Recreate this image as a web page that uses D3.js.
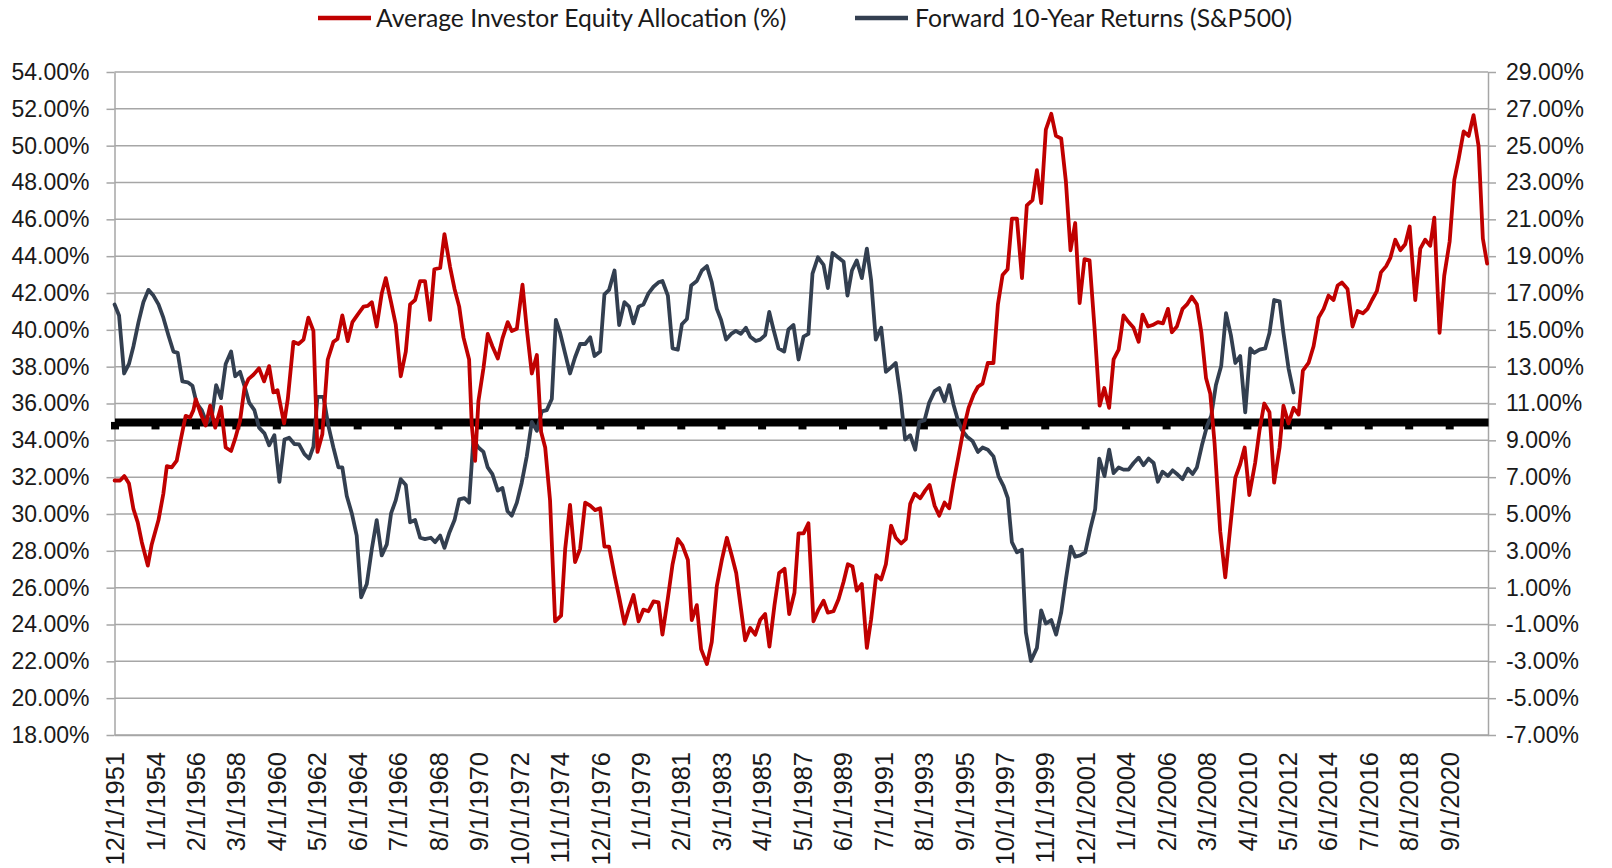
<!DOCTYPE html>
<html>
<head>
<meta charset="utf-8">
<script src="https://cdn.jsdelivr.net/npm/d3@7"></script>
<style>
  html, body { margin: 0; padding: 0; background: #fff; }
  svg { display: block; font-family: Lato, "Open Sans", sans-serif; }
  .axis text { font-size: 23px; fill: #1a1a1a; }
  .axis.bottom text { font-size: 25.5px; }
  .grid line { stroke: #a6a6a6; stroke-width: 1.5; }
  .legend text { font-size: 24.7px; fill: #1a1a1a; }
</style>
</head>
<body>
<div id="chart"></div>
<script>
(function () {'use strict';

// Average investor equity allocation (%), left axis. [decimal year, value]
var allocYears = [
    1951.92, 1952.20, 1952.42, 1952.66, 1952.89, 1953.11, 1953.32, 1953.63, 1953.83, 1954.18,
    1954.43, 1954.61, 1954.86, 1955.12, 1955.34, 1955.58, 1955.81, 1955.98, 1956.10, 1956.37,
    1956.61, 1956.84, 1957.10, 1957.40, 1957.64, 1957.92, 1958.13, 1958.38, 1958.61, 1958.81,
    1959.07, 1959.36, 1959.62, 1959.88, 1960.10, 1960.31, 1960.65, 1960.84, 1961.13, 1961.39,
    1961.65, 1961.90, 1962.16, 1962.37, 1962.62, 1962.90, 1963.19, 1963.40, 1963.65, 1963.93,
    1964.17, 1964.44, 1964.74, 1964.96, 1965.17, 1965.42, 1965.68, 1965.89, 1966.16, 1966.40,
    1966.66, 1966.92, 1967.14, 1967.40, 1967.66, 1967.91, 1968.17, 1968.39, 1968.69, 1968.91,
    1969.20, 1969.43, 1969.67, 1969.89, 1970.18, 1970.32, 1970.49, 1970.66, 1970.92, 1971.14,
    1971.38, 1971.66, 1971.90, 1972.17, 1972.38, 1972.64, 1972.93, 1973.15, 1973.41, 1973.67,
    1973.89, 1974.10, 1974.35, 1974.61, 1974.92, 1975.13, 1975.38, 1975.64, 1975.90, 1976.16,
    1976.42, 1976.67, 1976.93, 1977.15, 1977.39, 1977.67, 1977.91, 1978.18, 1978.42, 1978.65,
    1978.91, 1979.16, 1979.42, 1979.68, 1979.94, 1980.14, 1980.42, 1980.66, 1980.93, 1981.17,
    1981.45, 1981.65, 1981.91, 1982.13, 1982.43, 1982.68, 1982.94, 1983.20, 1983.46, 1983.71,
    1983.94, 1984.18, 1984.40, 1984.66, 1984.92, 1985.17, 1985.43, 1985.65, 1985.91, 1986.15,
    1986.43, 1986.67, 1986.94, 1987.15, 1987.41, 1987.66, 1987.92, 1988.18, 1988.44, 1988.66,
    1988.95, 1989.21, 1989.47, 1989.69, 1989.93, 1990.15, 1990.41, 1990.67, 1990.89, 1991.15,
    1991.41, 1991.65, 1991.92, 1992.16, 1992.44, 1992.68, 1992.90, 1993.13, 1993.42, 1993.67,
    1993.90, 1994.16, 1994.40, 1994.67, 1994.91, 1995.13, 1995.39, 1995.65, 1995.91, 1996.17,
    1996.39, 1996.63, 1996.90, 1997.19, 1997.42, 1997.66, 1997.92, 1998.14, 1998.40, 1998.66,
    1998.91, 1999.20, 1999.43, 1999.65, 1999.89, 2000.17, 2000.41, 2000.68, 2000.92, 2001.16,
    2001.40, 2001.63, 2001.88, 2002.14, 2002.40, 2002.66, 2002.90, 2003.15, 2003.38, 2003.64,
    2003.89, 2004.15, 2004.41, 2004.67, 2004.87, 2005.15, 2005.39, 2005.66, 2005.92, 2006.18,
    2006.38, 2006.64, 2006.93, 2007.16, 2007.41, 2007.67, 2007.90, 2008.14, 2008.36, 2008.58,
    2008.87, 2009.13, 2009.39, 2009.65, 2009.90, 2010.13, 2010.37, 2010.67, 2010.90, 2011.14,
    2011.41, 2011.65, 2011.93, 2012.13, 2012.39, 2012.65, 2012.91, 2013.13, 2013.42, 2013.68,
    2013.94, 2014.20, 2014.45, 2014.71, 2014.92, 2015.14, 2015.43, 2015.69, 2015.95, 2016.22,
    2016.46, 2016.69, 2016.94, 2017.15, 2017.42, 2017.63, 2017.89, 2018.15, 2018.40, 2018.63,
    2018.92, 2019.18, 2019.43, 2019.69, 2019.90, 2020.17, 2020.41, 2020.69, 2020.93, 2021.15,
    2021.41, 2021.67, 2021.92, 2022.18, 2022.40, 2022.62
];
var allocValues = [
    31.82, 31.82, 32.06, 31.65, 30.26, 29.55, 28.47, 27.20, 28.35, 29.67,
    31.10, 32.60, 32.53, 32.90, 34.10, 35.33, 35.24, 35.64, 36.24, 35.40,
    34.80, 35.88, 34.69, 35.81, 33.61, 33.42, 34.09, 35.05, 36.84, 37.32,
    37.56, 37.91, 37.20, 38.03, 36.60, 36.72, 34.92, 36.24, 39.35, 39.23,
    39.47, 40.66, 39.94, 33.37, 34.33, 38.39, 39.35, 39.50, 40.78, 39.39,
    40.42, 40.83, 41.26, 41.30, 41.50, 40.18, 41.98, 42.81, 41.50, 40.30,
    37.48, 38.82, 41.38, 41.62, 42.65, 42.65, 40.54, 43.29, 43.36, 45.20,
    43.41, 42.22, 41.26, 39.59, 38.39, 34.80, 32.89, 36.12, 37.91, 39.78,
    39.11, 38.44, 39.54, 40.42, 39.94, 40.06, 42.45, 40.06, 37.63, 38.63,
    34.45, 33.61, 30.74, 24.17, 24.48, 28.10, 30.50, 27.39, 28.11, 30.62,
    30.45, 30.21, 30.31, 28.23, 28.23, 26.68, 25.48, 24.05, 24.89, 25.60,
    24.17, 24.81, 24.72, 25.25, 25.20, 23.45, 25.44, 27.27, 28.64, 28.30,
    27.51, 24.24, 25.05, 22.66, 21.85, 23.05, 26.08, 27.51, 28.71, 27.75,
    26.80, 24.89, 23.14, 23.81, 23.45, 24.24, 24.57, 22.80, 25.05, 26.80,
    27.03, 24.57, 25.72, 28.95, 28.95, 29.50, 24.17, 24.81, 25.29, 24.65,
    24.72, 25.37, 26.32, 27.27, 27.15, 25.84, 26.20, 22.73, 24.29, 26.68,
    26.44, 27.27, 29.36, 28.71, 28.40, 28.64, 30.55, 31.10, 30.86, 31.27,
    31.58, 30.45, 29.91, 30.62, 30.31, 31.70, 33.13, 34.61, 35.76, 36.48,
    36.91, 37.08, 38.20, 38.20, 41.38, 42.98, 43.29, 46.04, 46.04, 42.81,
    46.76, 47.04, 48.67, 46.88, 50.87, 51.73, 50.53, 50.39, 48.07, 44.32,
    45.80, 41.45, 43.84, 43.77, 40.06, 35.88, 36.84, 35.76, 38.39, 38.92,
    40.78, 40.42, 40.11, 39.35, 40.83, 40.18, 40.26, 40.42, 40.35, 41.14,
    39.87, 40.18, 41.14, 41.38, 41.79, 41.38, 39.87, 37.39, 36.53, 33.85,
    29.07, 26.56, 29.31, 31.98, 32.70, 33.61, 31.03, 32.77, 34.57, 36.00,
    35.52, 31.70, 33.61, 35.88, 34.92, 35.76, 35.40, 37.79, 38.20, 39.11,
    40.66, 41.14, 41.86, 41.62, 42.41, 42.57, 42.22, 40.18, 41.02, 40.90,
    41.14, 41.62, 42.10, 43.12, 43.46, 43.89, 44.89, 44.32, 44.65, 45.61,
    41.62, 44.41, 44.89, 44.56, 46.09, 39.83, 42.93, 44.80, 48.14, 49.27,
    50.77, 50.53, 51.66, 49.98, 44.96, 43.60
];

// Forward 10-year S&P 500 returns (%), right axis
var returnYears = [
    1951.92, 1952.15, 1952.41, 1952.66, 1952.89, 1953.15, 1953.40, 1953.66, 1953.92, 1954.18,
    1954.43, 1954.69, 1954.95, 1955.17, 1955.41, 1955.69, 1955.93, 1956.15, 1956.41, 1956.67,
    1956.92, 1957.15, 1957.40, 1957.64, 1957.92, 1958.13, 1958.38, 1958.64, 1958.85, 1959.12,
    1959.36, 1959.64, 1959.88, 1960.15, 1960.41, 1960.67, 1960.91, 1961.18, 1961.42, 1961.70,
    1961.94, 1962.16, 1962.37, 1962.68, 1962.93, 1963.19, 1963.45, 1963.65, 1963.88, 1964.14,
    1964.39, 1964.62, 1964.91, 1965.17, 1965.42, 1965.68, 1965.94, 1966.16, 1966.40, 1966.66,
    1966.92, 1967.14, 1967.40, 1967.66, 1967.91, 1968.21, 1968.43, 1968.69, 1968.91, 1969.15,
    1969.43, 1969.67, 1969.94, 1970.18, 1970.40, 1970.66, 1970.92, 1971.14, 1971.38, 1971.66,
    1971.90, 1972.16, 1972.38, 1972.64, 1972.89, 1973.15, 1973.41, 1973.67, 1973.92, 1974.18,
    1974.44, 1974.65, 1974.87, 1975.13, 1975.38, 1975.64, 1975.90, 1976.16, 1976.42, 1976.64,
    1976.93, 1977.15, 1977.39, 1977.67, 1977.91, 1978.18, 1978.42, 1978.65, 1978.91, 1979.16,
    1979.42, 1979.68, 1979.94, 1980.14, 1980.42, 1980.66, 1980.93, 1981.14, 1981.40, 1981.62,
    1981.91, 1982.17, 1982.43, 1982.68, 1982.94, 1983.16, 1983.42, 1983.68, 1983.92, 1984.18,
    1984.44, 1984.66, 1984.95, 1985.17, 1985.43, 1985.64, 1985.86, 1986.12, 1986.41, 1986.63,
    1986.89, 1987.15, 1987.41, 1987.66, 1987.87, 1988.15, 1988.44, 1988.66, 1988.90, 1989.18,
    1989.47, 1989.67, 1989.90, 1990.15, 1990.41, 1990.67, 1990.89, 1991.13, 1991.41, 1991.65,
    1991.92, 1992.16, 1992.39, 1992.64, 1992.90, 1993.16, 1993.37, 1993.64, 1993.88, 1994.16,
    1994.40, 1994.67, 1994.91, 1995.13, 1995.36, 1995.56, 1995.82, 1996.11, 1996.39, 1996.63,
    1996.90, 1997.19, 1997.45, 1997.71, 1997.93, 1998.14, 1998.40, 1998.66, 1998.86, 1999.12,
    1999.43, 1999.65, 1999.89, 2000.17, 2000.42, 2000.68, 2000.92, 2001.18, 2001.40, 2001.66,
    2001.92, 2002.18, 2002.43, 2002.64, 2002.91, 2003.15, 2003.38, 2003.64, 2003.89, 2004.15,
    2004.41, 2004.67, 2004.92, 2005.18, 2005.44, 2005.66, 2005.90, 2006.18, 2006.42, 2006.69,
    2006.93, 2007.21, 2007.45, 2007.67, 2007.93, 2008.19, 2008.41, 2008.65, 2008.92, 2009.17,
    2009.42, 2009.65, 2009.90, 2010.16, 2010.42, 2010.62, 2010.90, 2011.19, 2011.41, 2011.65,
    2011.93, 2012.13, 2012.39, 2012.65
];
var returnValues = [
    16.38, 15.78, 12.63, 13.15, 14.11, 15.42, 16.50, 17.17, 16.86, 16.38,
    15.66, 14.71, 13.82, 13.75, 12.20, 12.15, 11.96, 11.00, 10.64, 9.92,
    10.24, 12.00, 11.29, 13.15, 13.82, 12.48, 12.72, 11.84, 11.05, 10.64,
    9.69, 9.38, 8.73, 9.28, 6.75, 9.04, 9.14, 8.80, 8.78, 8.25,
    8.01, 8.66, 11.36, 11.36, 9.80, 8.61, 7.53, 7.53, 5.98, 5.03,
    3.83, 0.48, 1.20, 3.11, 4.67, 2.75, 3.35, 5.03, 5.74, 6.89,
    6.58, 4.55, 4.67, 3.71, 3.64, 3.71, 3.47, 3.83, 3.16, 3.95,
    4.67, 5.79, 5.86, 5.62, 9.04, 8.61, 8.37, 7.53, 7.17, 6.27,
    6.41, 5.15, 4.91, 5.62, 6.70, 8.13, 10.00, 9.52, 10.57, 10.64,
    11.24, 15.54, 14.83, 13.70, 12.63, 13.51, 14.23, 14.23, 14.59, 13.58,
    13.82, 16.93, 17.17, 18.22, 15.26, 16.50, 16.26, 15.35, 16.26, 16.38,
    16.98, 17.34, 17.58, 17.65, 16.86, 13.99, 13.92, 15.30, 15.59, 17.41,
    17.65, 18.22, 18.46, 17.58, 16.14, 15.54, 14.47, 14.78, 14.94, 14.78,
    15.11, 14.63, 14.39, 14.47, 14.71, 15.97, 15.02, 13.99, 13.82, 15.02,
    15.26, 13.39, 14.63, 14.78, 18.05, 18.94, 18.53, 17.27, 19.18, 18.94,
    18.70, 16.86, 18.22, 18.77, 17.81, 19.41, 17.69, 14.47, 15.11, 12.72,
    12.96, 13.20, 11.48, 9.04, 9.28, 8.49, 10.00, 10.09, 11.05, 11.67,
    11.84, 11.12, 12.00, 10.95, 10.09, 9.57, 9.21, 8.97, 8.37, 8.61,
    8.49, 8.13, 7.06, 6.51, 5.86, 3.47, 2.92, 3.06, -1.43, -2.98,
    -2.27, -0.23, -0.95, -0.76, -1.55, -0.35, 1.44, 3.23, 2.68, 2.75,
    2.92, 4.19, 5.26, 8.01, 7.06, 8.49, 7.22, 7.53, 7.41, 7.41,
    7.77, 8.06, 7.65, 8.01, 7.77, 6.75, 7.30, 7.06, 7.37, 7.13,
    6.89, 7.46, 7.17, 7.53, 8.73, 9.76, 10.33, 12.00, 13.03, 15.90,
    14.71, 13.20, 13.58, 10.52, 13.99, 13.75, 13.92, 13.99, 14.83, 16.62,
    16.55, 14.83, 12.91, 11.60
];

var xTickLabels = [
    '12/1/1951', '1/1/1954', '2/1/1956', '3/1/1958', '4/1/1960', '5/1/1962',
    '6/1/1964', '7/1/1966', '8/1/1968', '9/1/1970', '10/1/1972', '11/1/1974',
    '12/1/1976', '1/1/1979', '2/1/1981', '3/1/1983', '4/1/1985', '5/1/1987',
    '6/1/1989', '7/1/1991', '8/1/1993', '9/1/1995', '10/1/1997', '11/1/1999',
    '12/1/2001', '1/1/2004', '2/1/2006', '3/1/2008', '4/1/2010', '5/1/2012',
    '6/1/2014', '7/1/2016', '8/1/2018', '9/1/2020'
];
var leftTicks  = [18, 20, 22, 24, 26, 28, 30, 32, 34, 36, 38, 40, 42, 44, 46, 48, 50, 52, 54];
var rightTicks = [-7, -5, -3, -1, 1, 3, 5, 7, 9, 11, 13, 15, 17, 19, 21, 23, 25, 27, 29];
var axisStart  = '12/1/1951',
    axisEnd    = '9/1/2022',
    baseReturn = 10;   // secondary horizontal axis crosses here

var series = [
    { name: 'Average Investor Equity Allocation (%)', color: '#c00000' },
    { name: 'Forward 10-Year Returns (S&P500)',       color: '#333f50' }
];

var width = 1612, height = 868,
    plot = { left: 114.5, right: 1488, top: 72, bottom: 735 };

var parseDate = d3.timeParse('%m/%d/%Y');

function yearToDate(y) {
    var yr = Math.floor(y),
        start = new Date(yr, 0, 1),
        end = new Date(yr + 1, 0, 1);
    return new Date(+start + (y - yr) * (end - start));
}

var allocData  = allocYears.map(function (y, i) { return { date: yearToDate(y), value: allocValues[i] }; });
var returnData = returnYears.map(function (y, i) { return { date: yearToDate(y), value: returnValues[i] }; });
var tickDates  = xTickLabels.map(function (s) { return parseDate(s); });

var x = d3.scaleTime()
    .domain([parseDate(axisStart), parseDate(axisEnd)])
    .range([plot.left, plot.right])
    .clamp(true);
var yLeft = d3.scaleLinear().domain([18, 54]).range([plot.bottom, plot.top]);
var yRight = d3.scaleLinear().domain([-7, 29]).range([plot.bottom, plot.top]);

var svg = d3.select('#chart')
    .append('svg')
        .attr('width', width)
        .attr('height', height);

// Gridlines
svg.append('g')
    .attr('class', 'grid')
    .selectAll('line')
    .data(leftTicks)
    .enter().append('line')
        .attr('x1', plot.left)
        .attr('x2', plot.right)
        .attr('y1', function (d) { return yLeft(d); })
        .attr('y2', function (d) { return yLeft(d); });

// Left axis
svg.append('g')
    .attr('class', 'axis left')
    .attr('transform', 'translate(' + plot.left + ',0)')
    .call(d3.axisLeft(yLeft)
        .tickValues(leftTicks)
        .tickSize(8)
        .tickSizeOuter(0)
        .tickPadding(17)
        .tickFormat(function (d) { return d.toFixed(2) + '%'; }));

// Right axis
svg.append('g')
    .attr('class', 'axis right')
    .attr('transform', 'translate(' + plot.right + ',0)')
    .call(d3.axisRight(yRight)
        .tickValues(rightTicks)
        .tickSize(8)
        .tickSizeOuter(0)
        .tickPadding(10)
        .tickFormat(function (d) { return d.toFixed(2) + '%'; }));

// Bottom axis (labels only, rotated)
var gBottom = svg.append('g')
    .attr('class', 'axis bottom')
    .attr('transform', 'translate(0,' + plot.bottom + ')')
    .call(d3.axisBottom(x)
        .tickValues(tickDates)
        .tickSize(0)
        .tickSizeOuter(0)
        .tickFormat(function (d, i) { return xTickLabels[i]; }));

gBottom.selectAll('text')
    .attr('transform', 'rotate(-90)')
    .attr('x', -17)
    .attr('y', 0)
    .attr('dy', '0.36em')
    .attr('text-anchor', 'end');

svg.selectAll('.axis path, .axis line')
    .attr('stroke', '#a6a6a6')
    .attr('stroke-width', 1.5);

// Secondary horizontal axis at 10% (thick black with tick marks)
svg.append('g')
    .attr('class', 'base-axis')
    .attr('transform', 'translate(0,' + yRight(baseReturn) + ')')
    .call(d3.axisBottom(x)
        .tickValues(tickDates)
        .tickSize(7.5)
        .tickSizeOuter(0)
        .tickFormat(''))
    .call(function (g) {
        g.selectAll('path, line')
            .attr('stroke', '#000')
            .attr('stroke-width', 8);
    });

// Lines
var allocLine = d3.line()
    .x(function (d) { return x(d.date); })
    .y(function (d) { return yLeft(d.value); });
var returnLine = d3.line()
    .x(function (d) { return x(d.date); })
    .y(function (d) { return yRight(d.value); });

svg.append('path')
    .attr('class', 'line returns')
    .attr('d', returnLine(returnData))
    .attr('fill', 'none')
    .attr('stroke', series[1].color)
    .attr('stroke-width', 3.8)
    .attr('stroke-linejoin', 'round')
    .attr('stroke-linecap', 'round');

svg.append('path')
    .attr('class', 'line alloc')
    .attr('d', allocLine(allocData))
    .attr('fill', 'none')
    .attr('stroke', series[0].color)
    .attr('stroke-width', 3.8)
    .attr('stroke-linejoin', 'round')
    .attr('stroke-linecap', 'round');

// Legend
var legendPos = [ { x: 318, tx: 376 }, { x: 855, tx: 915 } ];
var legend = svg.append('g').attr('class', 'legend');
series.forEach(function (s, i) {
    legend.append('line')
        .attr('x1', legendPos[i].x)
        .attr('x2', legendPos[i].x + 53)
        .attr('y1', 18)
        .attr('y2', 18)
        .attr('stroke', s.color)
        .attr('stroke-width', 4.5);
    legend.append('text')
        .attr('x', legendPos[i].tx)
        .attr('y', 18)
        .attr('dy', '0.35em')
        .text(s.name);
});

})();
</script>
</body>
</html>
